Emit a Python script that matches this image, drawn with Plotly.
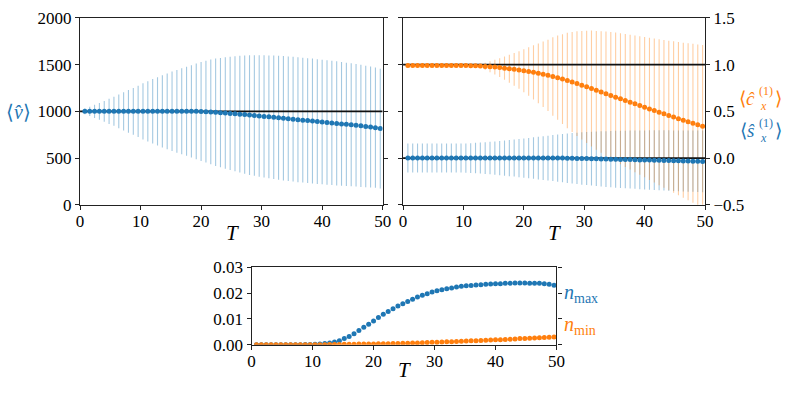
import plotly.graph_objects as go

# ---------------- data ----------------
T = [0.8, 1.6, 2.4, 3.2, 4.0, 4.8, 5.6, 6.4, 7.2, 8.0,
     8.8, 9.6, 10.4, 11.2, 12.0, 12.8, 13.6, 14.4, 15.2, 16.0,
     16.8, 17.6, 18.4, 19.2, 20.0, 20.8, 21.6, 22.4, 23.2, 24.0,
     24.8, 25.6, 26.4, 27.2, 28.0, 28.8, 29.6, 30.4, 31.2, 32.0,
     32.8, 33.6, 34.4, 35.2, 36.0, 36.8, 37.6, 38.4, 39.2, 40.0,
     40.8, 41.6, 42.4, 43.2, 44.0, 44.8, 45.6, 46.4, 47.2, 48.0,
     48.8, 49.6]

v_mean = [1000] * 24 + [999, 997, 994, 990, 986, 982, 978, 974, 970, 965,
                        960, 956, 951, 946, 941, 936, 931, 926, 921, 916,
                        911, 906, 901, 896, 891, 886, 881, 876, 871, 866,
                        861, 856, 851, 845, 839, 832, 825, 816]
v_err = [30, 50, 70, 90, 110, 135, 155, 180, 205, 229,
         250, 275, 300, 322, 345, 366, 386, 406, 425, 442,
         460, 476, 494, 512, 530, 545, 560, 574, 585, 596,
         605, 615, 625, 633, 640, 645, 650, 654, 657, 660,
         663, 665, 666, 667, 668, 668, 668, 668, 667, 667,
         666, 665, 664, 662, 660, 658, 656, 653, 650, 647,
         643, 640]

c_mean = [0.99] * 13 + [0.989, 0.987, 0.984, 0.981, 0.977, 0.973, 0.968,
                        0.962, 0.956, 0.949, 0.942, 0.934, 0.926, 0.917,
                        0.907, 0.896, 0.885, 0.873, 0.86, 0.845, 0.83,
                        0.814, 0.797, 0.78, 0.762, 0.744, 0.725, 0.706,
                        0.688, 0.67, 0.652, 0.634, 0.616, 0.598, 0.58,
                        0.562, 0.544, 0.526, 0.508, 0.49, 0.473, 0.456,
                        0.439, 0.422, 0.405, 0.388, 0.372, 0.356, 0.34]
c_err = [0.0] * 15 + [0.02, 0.04, 0.06, 0.08, 0.10, 0.125, 0.15, 0.175,
                      0.20, 0.23, 0.26, 0.29, 0.32, 0.35, 0.38, 0.42,
                      0.45, 0.48, 0.51, 0.535, 0.56, 0.58, 0.60, 0.62,
                      0.635, 0.65, 0.665, 0.68, 0.69, 0.70, 0.71, 0.72,
                      0.73, 0.74, 0.75, 0.76, 0.77, 0.78, 0.79, 0.80,
                      0.81, 0.82, 0.83, 0.84, 0.85, 0.86, 0.87]

s_mean = [0.0] * 33 + [-0.001, -0.002, -0.003, -0.004, -0.005, -0.006,
                       -0.007, -0.009, -0.010, -0.011, -0.012, -0.014,
                       -0.015, -0.016, -0.017, -0.019, -0.020, -0.021,
                       -0.022, -0.024, -0.025, -0.026, -0.028, -0.029,
                       -0.030, -0.032, -0.033, -0.034, -0.036]
s_err = [0.155] * 12 + [0.157, 0.16, 0.163, 0.166, 0.17, 0.174, 0.178,
                        0.183, 0.188, 0.193, 0.198, 0.204, 0.21, 0.216,
                        0.222, 0.228, 0.234, 0.24, 0.246, 0.252, 0.258,
                        0.264, 0.27, 0.275, 0.28, 0.284, 0.288, 0.292,
                        0.295, 0.298, 0.301, 0.304, 0.306, 0.308, 0.31,
                        0.312, 0.314, 0.316, 0.318, 0.32, 0.321, 0.322,
                        0.323, 0.324, 0.325, 0.326, 0.327, 0.328, 0.329,
                        0.33]

n_max = [0.0] * 10 + [0.0001, 0.0001, 0.0002, 0.0003, 0.0005, 0.0007,
                      0.0011, 0.0016, 0.0024, 0.0032, 0.0043, 0.0055,
                      0.0068, 0.008, 0.0092, 0.0106, 0.0118, 0.0129,
                      0.014, 0.015, 0.0159, 0.0168, 0.0176, 0.0185,
                      0.0192, 0.0198, 0.0204, 0.0209, 0.0213, 0.0217,
                      0.022, 0.0224, 0.0227, 0.0229, 0.023, 0.0232,
                      0.0233, 0.0234, 0.0235, 0.0236, 0.0236, 0.0238,
                      0.0238, 0.0239, 0.0239, 0.0239, 0.0238, 0.0238,
                      0.0238, 0.0236, 0.0234, 0.0231]
n_min = [0.0] * 15 + [0.0001, 0.0001, 0.0001, 0.0002, 0.0002,
                      0.0002, 0.0003, 0.0003, 0.0003, 0.0003,
                      0.0004, 0.0004, 0.0004, 0.0005, 0.0005,
                      0.0006, 0.0006, 0.0007, 0.0007, 0.0008,
                      0.0009, 0.001, 0.001, 0.0011, 0.0012,
                      0.0012, 0.0013, 0.0014, 0.0015, 0.0016,
                      0.0016, 0.0017, 0.0018, 0.0019, 0.002,
                      0.002, 0.0021, 0.0022, 0.0023, 0.0024,
                      0.0024, 0.0025, 0.0026, 0.0027, 0.0028,
                      0.0029, 0.003]

x_range = [0, 50]
v_reference = 1000
c_reference = 1.0
s_reference = 0.0

# ---------------- style ----------------
BLUE = "#1f77b4"
ORANGE = "#ff7f0e"
BLUE_ERR = "rgba(31,119,180,0.40)"
ORANGE_ERR = "rgba(255,127,14,0.38)"
FONT = "Liberation Serif"
W, H = 793, 397

fig = go.Figure()


def err_trace(y, err, color, xa, ya):
    return go.Scatter(x=T, y=y, mode="markers",
                      marker=dict(size=1, color="rgba(0,0,0,0)"),
                      error_y=dict(type="data", array=err, visible=True,
                                   color=color, thickness=1.1, width=0),
                      xaxis=xa, yaxis=ya, showlegend=False, hoverinfo="skip")


def ref_line(val, xa, ya):
    return go.Scatter(x=x_range, y=[val, val], mode="lines",
                      line=dict(color="#111111", width=1.6),
                      xaxis=xa, yaxis=ya, showlegend=False, hoverinfo="skip")


def dots(y, color, xa, ya):
    return go.Scatter(x=T, y=y, mode="markers",
                      marker=dict(size=5, color=color, line=dict(width=0)),
                      xaxis=xa, yaxis=ya, showlegend=False)


# top-left
fig.add_trace(err_trace(v_mean, v_err, BLUE_ERR, "x", "y"))
fig.add_trace(ref_line(v_reference, "x", "y"))
fig.add_trace(dots(v_mean, BLUE, "x", "y"))

# top-right
fig.add_trace(err_trace(s_mean, s_err, BLUE_ERR, "x2", "y2"))
fig.add_trace(err_trace(c_mean, c_err, ORANGE_ERR, "x2", "y2"))
fig.add_trace(ref_line(c_reference, "x2", "y2"))
fig.add_trace(ref_line(s_reference, "x2", "y2"))
fig.add_trace(dots(s_mean, BLUE, "x2", "y2"))
fig.add_trace(dots(c_mean, ORANGE, "x2", "y2"))

# bottom
fig.add_trace(dots(n_max, BLUE, "x3", "y3"))
fig.add_trace(dots(n_min, ORANGE, "x3", "y3"))


def px_x(p):
    return p / W


def px_y(p):
    return 1 - p / H


axis_common = dict(showline=True, linecolor="#222222", linewidth=1.1,
                   ticks="outside", ticklen=4, tickwidth=1, tickcolor="#222222",
                   showgrid=False, zeroline=False,
                   tickfont=dict(family=FONT, size=17, color="black"))
x_extra = dict(range=x_range, dtick=10, tick0=0, mirror=True,
               ticklabelstandoff=-3)

top_y = [px_y(205.7), px_y(9.3)]
bot_y = [px_y(352.7), px_y(271.3)]

fig.update_layout(
    width=W, height=H, autosize=False,
    margin=dict(l=0, r=0, t=0, b=0),
    paper_bgcolor="white", plot_bgcolor="white",
    font=dict(family=FONT, size=17, color="black"),
    xaxis=dict(domain=[px_x(77.3), px_x(385)], anchor="y",
               **x_extra, **axis_common),
    yaxis=dict(domain=top_y, anchor="x", range=[0, 2000], dtick=500,
               mirror="ticks", **axis_common),
    xaxis2=dict(domain=[px_x(405.7), px_x(712.7)], anchor="y2",
                **x_extra, **axis_common),
    yaxis2=dict(domain=top_y, anchor="x2", range=[-0.5, 1.5], dtick=0.5,
                tick0=0, side="right", tickformat=".1f", mirror="ticks",
                **axis_common),
    xaxis3=dict(domain=[px_x(251.7), px_x(561.7)], anchor="y3",
                **x_extra, **axis_common),
    yaxis3=dict(domain=bot_y, anchor="x3", range=[0, 0.03], dtick=0.01,
                tick0=0, tickformat=".2f", mirror="ticks", **axis_common),
)

ann = []


def label(text, x, y, color, size=20, xanchor="center"):
    ann.append(dict(text=text, x=px_x(x), y=px_y(y), xref="paper", yref="paper",
                    showarrow=False, xanchor=xanchor, yanchor="middle",
                    borderpad=0, font=dict(family=FONT, size=size, color=color)))


label("<i>T</i>", 232, 235, "black", 21)
label("<i>T</i>", 560, 235, "black", 21)
label("<i>T</i>", 407, 379, "black", 21)
label("⟨<i>v̂</i>⟩", 15, 108, BLUE, 20)


def stacked(base, y, color):
    # base symbol with stacked sub/superscripts
    label("⟨<i>%s</i>" % base, 765, y, color, 19, "right")
    label("(1)", 767, y - 8, color, 12, "left")
    label("<i>x</i>", 768, y + 8, color, 12, "left")
    label("⟩", 783, y, color, 19, "left")


stacked("ĉ", 94, ORANGE)
stacked("ŝ", 128, BLUE)
label("<i>n</i><sub>max</sub>", 568, 299, BLUE, 20, "left")
label("<i>n</i><sub>min</sub>", 568, 332, ORANGE, 20, "left")

fig.update_layout(annotations=ann)
fig.write_html("out.html",
               config={"responsive": False, "displayModeBar": False},
               post_script="document.body.style.margin='0';"
                           "document.body.style.overflow='hidden';")
